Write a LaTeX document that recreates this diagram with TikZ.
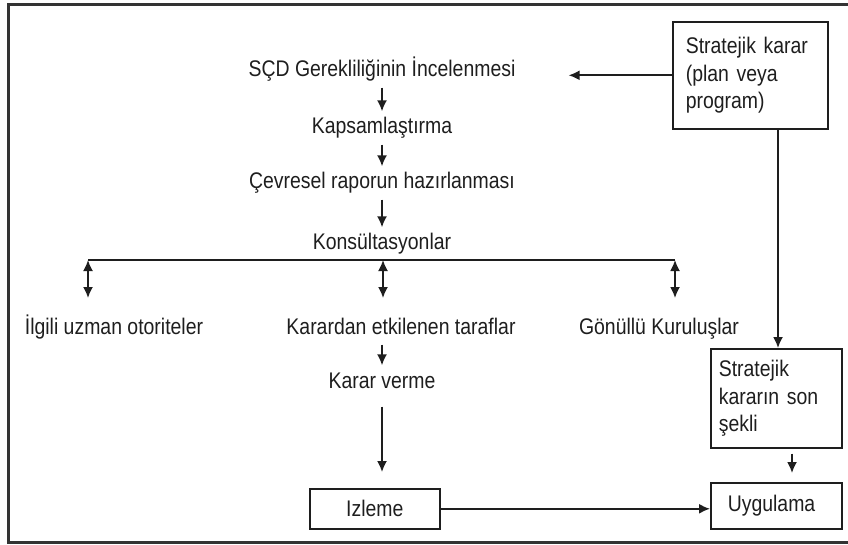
\documentclass[tikz,border=0pt]{standalone}
\usepackage{fontspec}
\setmainfont{Liberation Sans}[FakeStretch=0.86]
\usetikzlibrary{arrows.meta,calc}
\definecolor{ink}{HTML}{1E1E1E}
\begin{document}
\begin{tikzpicture}[x=1pt,y=-1pt,
  every node/.style={font=\fontsize{22.6}{27.5}\selectfont, text=ink},
  lbl/.style={inner sep=0pt, inner ysep=6pt, text height=16.5pt, text depth=4.5pt, anchor=base},
  box/.style={draw=ink, line width=1.6pt, inner sep=0pt, anchor=north west},
  conn/.style={draw=ink, line width=1.7pt},
  arr/.style={conn, -{Latex[length=11pt,width=10pt]}},
  darr/.style={conn, {Latex[length=11pt,width=10pt]}-{Latex[length=11pt,width=10pt]}},
  frame/.style={draw=black!80, line width=3pt}]
\useasboundingbox (0,0) rectangle (848,545);
\draw[frame] (852,5) -- (8,5) -- (8,542) -- (852,542);

% text nodes
\node[lbl] (scd) at (382,77) {SÇD Gerekliliğinin İncelenmesi};
\node[lbl] (kap) at (382,134) {Kapsamlaştırma};
\node[lbl] (cev) at (382,189) {Çevresel raporun hazırlanması};
\node[lbl] (kon) at (382,250) {Konsültasyonlar};
\node[lbl] (ilg) at (114,334) {İlgili uzman otoriteler};
\node[lbl] (kef) at (401,334) {Karardan etkilenen taraflar};
\node[lbl] (gon) at (659,334) {Gönüllü Kuruluşlar};
\node[lbl] (kv) at (382,388) {Karar verme};

% boxes
\node[box, minimum width=155pt, minimum height=107pt, text width=129pt, align=left, inner xsep=13pt] (sk) at (672,21) {Stratejik karar\\(plan veya\\program)};
\node[box, minimum width=131pt, minimum height=99pt, text width=115pt, align=left, inner xsep=8pt] (ss) at (710,348) {Stratejik\\kararın son\\şekli};
\node[box, minimum width=131pt, minimum height=46pt, text width=97pt, align=left, inner xsep=17pt] (uy) at (710,482) {Uygulama};
\node[box, minimum width=130pt, minimum height=40pt] (iz) at (309,488) {Izleme};

% coordinates
\coordinate (b1) at (88,260);
\coordinate (b2) at (383,260);
\coordinate (b3) at (675,260);
\coordinate (e1) at (88,298);
\coordinate (e2) at (383,298);
\coordinate (e3) at (675,298);
\coordinate (v1) at (778,0);
\coordinate (v2) at (792,0);

% connectors
\draw[arr] (scd.south) -- (kap.north);
\draw[arr] (kap.south) -- (cev.north);
\draw[arr] (cev.south) -- (kon.north);
\draw[conn] (b1) -- (b3);
\draw[darr] (b1) -- (e1);
\draw[darr] (b2) -- (e2);
\draw[darr] (b3) -- (e3);
\draw[arr] (kv.north |- kef.south) -- (kv.north);
\draw[arr, shorten <=8pt, shorten >=16pt] (kv.south) -- (kv.south |- iz.north);
\draw[arr] (iz.east) -- (uy.west |- iz.east);
\draw[arr, shorten >=53pt] (sk.west) -- (sk.west -| scd.east);
\draw[arr] (sk.south -| v1) -- (ss.north -| v1);
\draw[arr, shorten <=5pt, shorten >=9pt] (ss.south -| v2) -- (uy.north -| v2);
\end{tikzpicture}
\end{document}
